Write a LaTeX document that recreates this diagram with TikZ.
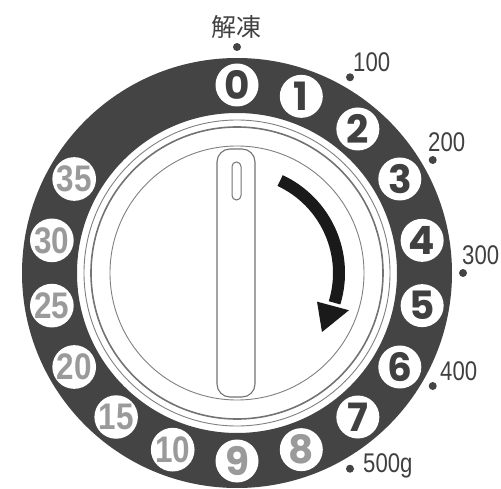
\documentclass[tikz,border=0pt]{standalone}
\usepackage{fontspec}
\setmainfont{Liberation Sans}
\newfontfamily\dialfont{Poppins}
\newfontfamily\grayfont{Liberation Sans}
\newfontfamily\cjk{Noto Sans CJK JP}
\definecolor{ringc}{HTML}{444444}
\definecolor{txtc}{HTML}{404040}
\definecolor{grayn}{HTML}{9A9A9A}
\definecolor{linec}{HTML}{808080}
\definecolor{arrc}{HTML}{1A1A1A}
\tikzset{
  numc/.style={circle, fill=white, minimum size=43pt, inner sep=0pt, text=txtc,
    font=\dialfont\bfseries\fontsize{39}{39}\selectfont},
  numg/.style={numc, text=grayn},
  numt/.style={circle, fill=white, minimum size=43pt, inner sep=0pt, text=grayn,
    font=\grayfont\bfseries\fontsize{37}{37}\selectfont},
  lbl/.style={anchor=base west, inner sep=0pt, text=txtc,
    font=\fontsize{27}{27}\selectfont},
  dotc/.style={circle, fill=ringc, inner sep=0pt, minimum size=8pt},
  thinring/.style={draw=linec, line width=0.9pt},
  thickring/.style={draw=linec!90!black, line width=1.6pt},
  knobline/.style={draw=linec!90!black, line width=1.1pt}
}
\begin{document}
\begin{tikzpicture}[x=1pt,y=1pt]
\useasboundingbox (0,0) rectangle (501,488);
\coordinate (C) at (237,215);
% dark ring
\fill[ringc, even odd rule] (C) circle (215) (C) circle (160);
% inner rings
\draw[thinring] (C) circle (153);
\draw[thickring] (C) circle (146);
\draw[thinring] (C) circle (127);
% dial numbers
\begin{scope}[shift={(C)}]
\node[numc] (n0) at (90:188) {0};
\node[numc] (n1) at (70:188) {1};
\node[numc] (n2) at (50:188) {2};
\node[numc] (n3) at (30:188) {3};
\node[numc] (n4) at (10:188) {4};
\node[numc] (n5) at (-10:188) {5};
\node[numc] (n6) at (-30:188) {6};
\node[numc] (n7) at (-50:188) {7};
\node[numg] (n8) at (-70:188) {8};
\node[numg] (n9) at (-90:188) {9};
\node[numt] (n10) at (250:188) {\scalebox{0.85}[1]{10}};
\node[numt] (n15) at (230:188) {\scalebox{0.85}[1]{15}};
\node[numt] (n20) at (210:188) {\scalebox{0.85}[1]{20}};
\node[numt] (n25) at (190:188) {\scalebox{0.85}[1]{25}};
\node[numt] (n30) at (170:188) {\scalebox{0.85}[1]{30}};
\node[numt] (n35) at (150:188) {\scalebox{0.85}[1]{35}};
% outer dots
\node[dotc] (d0) at (90:226) {};
\node[dotc] (d1) at (60:226) {};
\node[dotc] (d2) at (30:226) {};
\node[dotc] (d3) at (0:226) {};
\node[dotc] (d4) at (-30:226) {};
\node[dotc] (d5) at (-60:226) {};
% arrow
\draw[arrc, line width=12pt] (65:102) arc[start angle=65, end angle=-17, radius=102];
\fill[arrc] (-19.7:85) -- (-18.4:118) -- (-34.8:103.5) -- cycle;
\end{scope}
% outer labels
\node[text=txtc, inner sep=0pt, font=\cjk\fontsize{25}{25}\selectfont] (ljt) at (236,461) {解凍};
\node[lbl] (l100) at (353,416) {\scalebox{0.82}[1]{100}};
\node[lbl] (l200) at (428,336) {\scalebox{0.82}[1]{200}};
\node[lbl] (l300) at (462,223) {\scalebox{0.82}[1]{300}};
\node[lbl] (l400) at (440,108) {\scalebox{0.82}[1]{400}};
\node[lbl] (l500) at (363,16) {\scalebox{0.82}[1]{500g}};
% knob
\draw[knobline, fill=white, rounded corners=13pt] (217,91) rectangle (255,339);
\draw[knobline, line width=1pt, rounded corners=4.5pt] (232,288) rectangle (241,326);
\end{tikzpicture}
\end{document}
